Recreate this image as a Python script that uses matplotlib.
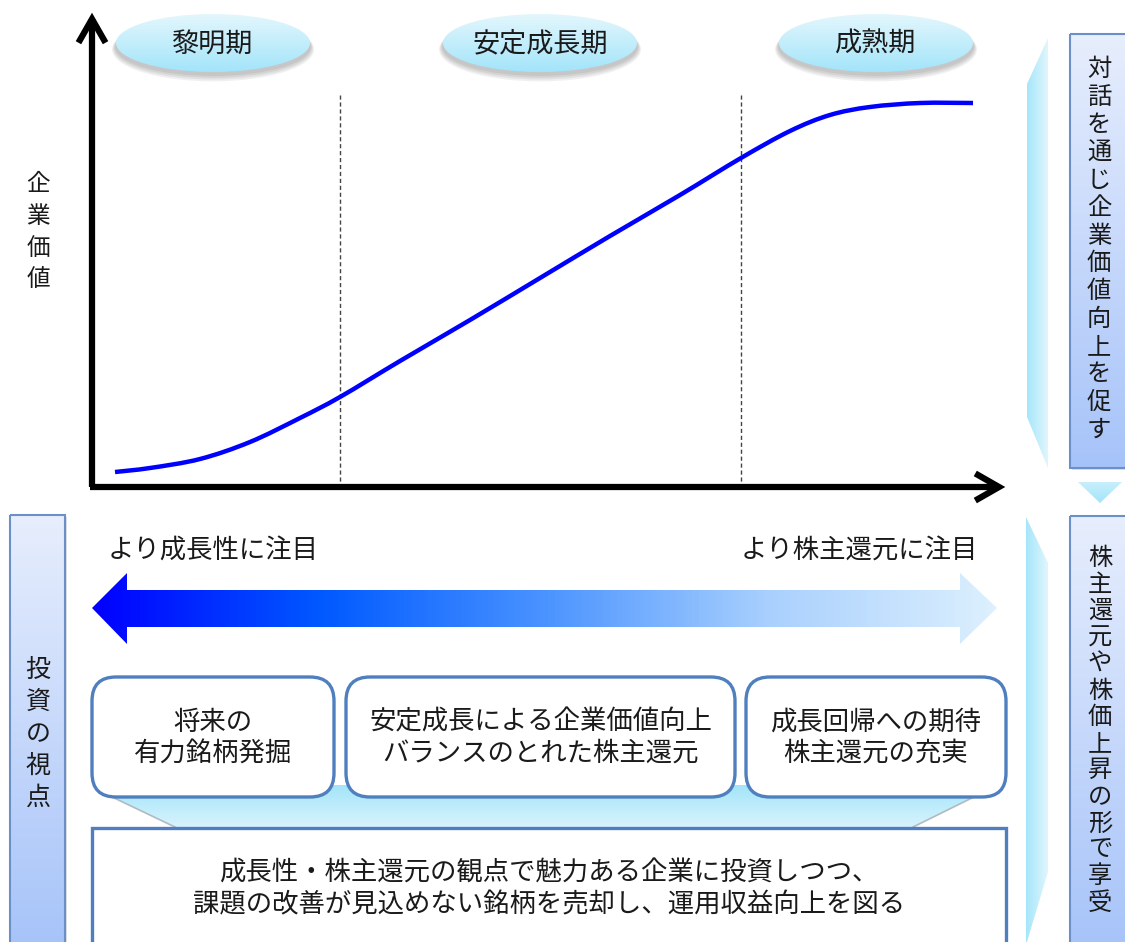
import numpy as np
import matplotlib.pyplot as plt
import matplotlib.patches as patches
from matplotlib.path import Path
from matplotlib.colors import LinearSegmentedColormap

plt.rcParams['font.family'] = ['Noto Sans CJK JP', 'DejaVu Sans']

# ---- data (pixel coordinates) ----
curve_x = [115, 150, 200, 250, 300, 340, 400, 470, 540, 610, 680, 741, 790, 830, 870, 920, 973]
curve_y = [472, 468, 459, 442, 418, 397, 361, 320, 278, 236, 195, 158, 131, 115, 107, 103, 103]
stage_names = ['黎明期', '安定成長期', '成熟期']
stage_cx = [213, 540, 876]
stage_lines = [340, 741]

box_texts = ['将来の\n有力銘柄発掘',
             '安定成長による企業価値向上\nバランスのとれた株主還元',
             '成長回帰への期待\n株主還元の充実']
box_x0 = [92, 346, 746]
box_x1 = [334, 735, 1006]

bottom_text = '成長性・株主還元の観点で魅力ある企業に投資しつつ、\n課題の改善が見込めない銘柄を売却し、運用収益向上を図る'
y_label = '企業価値'
left_label = '投資の視点'
right_top_label = '対話を通じ企業価値向上を促す'
right_bottom_label = '株主還元や株価上昇の形で享受'

TXT = '#1a1a1a'
EDGE = '#4f7fbf'

fig = plt.figure(figsize=(11.25, 9.42), dpi=100)
ax = fig.add_axes([0, 0, 1, 1])
ax.set_xlim(0, 1125)
ax.set_ylim(942, 0)
ax.axis('off')


def gradient(x0, y0, x1, y1, colors, vertical=True, clip=None, z=1):
    cmap = LinearSegmentedColormap.from_list('g', colors)
    g = np.linspace(0, 1, 256)
    arr = g.reshape(-1, 1) if vertical else g.reshape(1, -1)
    im = ax.imshow(arr, cmap=cmap, extent=(x0, x1, y1, y0), aspect='auto',
                   origin='upper', zorder=z, interpolation='bilinear')
    if clip is not None:
        im.set_clip_path(clip)
    return im


def vtext(x, y0, y1, s, size):
    ys = np.linspace(y0, y1, len(s))
    for ch, yy in zip(s, ys):
        ax.text(x, yy, ch, ha='center', va='center', fontsize=size, color=TXT, zorder=10)


def smooth_path(xs, ys):
    # Catmull-Rom through the points, drawn as cubic bezier segments
    p = np.column_stack([xs, ys]).astype(float)
    verts = [p[0]]
    codes = [Path.MOVETO]
    for i in range(len(p) - 1):
        p0 = p[i - 1] if i > 0 else p[i]
        p3 = p[i + 2] if i + 2 < len(p) else p[i + 1]
        c1 = p[i] + (p[i + 1] - p0) / 6
        c2 = p[i + 1] - (p3 - p[i]) / 6
        verts += [c1, c2, p[i + 1]]
        codes += [Path.CURVE4] * 3
    return Path(verts, codes)


# ---- axes arrows ----
ax.plot([92, 92], [487, 19], color='black', lw=4.5, solid_capstyle='butt', zorder=5)
ax.plot([80, 92, 104], [40, 19, 40], color='black', lw=4.5, solid_joinstyle='miter', zorder=5)
ax.plot([90, 998], [487, 487], color='black', lw=4.5, solid_capstyle='butt', zorder=5)
ax.plot([978, 999, 978], [475, 487, 499], color='black', lw=4.5, solid_joinstyle='miter', zorder=5)

for xv in stage_lines:
    ax.plot([xv, xv], [95, 485], color='#444444', lw=1, ls=(0, (3, 2)), zorder=3)

ax.add_patch(patches.PathPatch(smooth_path(curve_x, curve_y), facecolor='none',
                               edgecolor='#0000ff', lw=3.2, capstyle='butt', zorder=6))

vtext(38, 185, 280, y_label, 17)

# ---- stage ellipses ----
for name, cx in zip(stage_names, stage_cx):
    for k in range(4):
        sh = patches.Ellipse((cx, 47 + k * 0.8), 196 + k * 2, 58 + k * 2, facecolor='#000000',
                             edgecolor='none', alpha=0.06, zorder=2)
        ax.add_patch(sh)
    el = patches.Ellipse((cx, 43), 194, 58, facecolor='none', edgecolor='none', zorder=3)
    ax.add_patch(el)
    gradient(cx - 97, 14, cx + 97, 72, ['#e3f7fd', '#a3e4fa'], clip=el, z=3)
    ax.text(cx, 44, name, ha='center', va='center', fontsize=19.5, color=TXT, zorder=10)

# ---- right side panels ----
def side_panel(x0, y0, x1, y1):
    sh = patches.Rectangle((x0 + 2, y0 + 2), x1 - x0, y1 - y0, facecolor='#000000', alpha=0.12,
                           edgecolor='none', zorder=2)
    ax.add_patch(sh)
    r = patches.Rectangle((x0, y0), x1 - x0, y1 - y0, facecolor='none', edgecolor='none', zorder=3)
    ax.add_patch(r)
    gradient(x0, y0, x1, y1, ['#e7eefd', '#a6c3f9'], clip=r, z=3)
    ax.add_patch(patches.Rectangle((x0, y0), x1 - x0, y1 - y0, facecolor='none',
                                   edgecolor='#6b90c8', lw=1.5, zorder=4))


side_panel(1070, 34, 1130, 468)
side_panel(1070, 516, 1130, 950)
side_panel(10, 515, 65, 950)

vtext(1099, 69, 430, right_top_label, 17.5)
vtext(1100, 558, 903, right_bottom_label, 17.5)
vtext(38, 670, 798, left_label, 18)

# brackets next to right panels
br1 = patches.Polygon([(1048, 38), (1048, 468), (1027, 417), (1027, 84)], closed=True,
                      facecolor='none', edgecolor='none', zorder=3)
ax.add_patch(br1)
gradient(1026, 38, 1049, 468, ['#a3e5fa', '#e3f7fd'], vertical=False, clip=br1, z=3)
br2 = patches.Polygon([(1026, 517), (1048, 563), (1048, 872), (1026, 945)], closed=True,
                      facecolor='none', edgecolor='none', zorder=3)
ax.add_patch(br2)
gradient(1025, 517, 1049, 945, ['#a3e5fa', '#e3f7fd'], vertical=False, clip=br2, z=3)

tri = patches.Polygon([(1078, 482), (1122, 482), (1100, 503)], closed=True,
                      facecolor='none', edgecolor='none', zorder=3)
ax.add_patch(tri)
gradient(1078, 482, 1122, 503, ['#c8effc', '#a3e4fa'], clip=tri, z=3)

# ---- focus labels and double arrow ----
ax.text(108, 551, 'より成長性に注目', ha='left', va='center', fontsize=19, color=TXT, zorder=10)
ax.text(978, 551, 'より株主還元に注目', ha='right', va='center', fontsize=19, color=TXT, zorder=10)

arrow = patches.Polygon([(92, 608), (127, 573), (127, 590), (960, 590), (960, 573), (997, 608),
                         (960, 644), (960, 627), (127, 627), (127, 644)], closed=True,
                        facecolor='none', edgecolor='none', zorder=3)
ax.add_patch(arrow)
gradient(92, 573, 997, 644, ['#0000ff', '#0059ff', '#4a93ff', '#a9d0fd', '#dcf0fd'],
         vertical=False, clip=arrow, z=3)

# ---- funnel behind boxes ----
funnel = patches.Polygon([(110, 785), (990, 785), (972, 798), (913, 828), (175, 828), (114, 798)],
                         closed=True, facecolor='none', edgecolor='none', zorder=2)
ax.add_patch(funnel)
gradient(100, 785, 1000, 828, ['#a3e4fa', '#d9f4fd'], clip=funnel, z=2)
ax.plot([114, 175], [798, 827], color='#999999', lw=1.2, alpha=0.6, zorder=2)
ax.plot([972, 913], [798, 827], color='#999999', lw=1.2, alpha=0.6, zorder=2)

# ---- rounded boxes ----
for txt, x0, x1 in zip(box_texts, box_x0, box_x1):
    b = patches.FancyBboxPatch((x0, 677), x1 - x0, 120, boxstyle='round,pad=0,rounding_size=24',
                               facecolor='white', edgecolor=EDGE, lw=2.4, zorder=5)
    ax.add_patch(b)
    ax.text((x0 + x1) / 2, 738, txt, ha='center', va='center', fontsize=19, color=TXT,
            linespacing=1.2, zorder=10)

# ---- bottom box ----
ax.add_patch(patches.Rectangle((92, 828), 914, 130, facecolor='white', edgecolor=EDGE,
                               lw=2.4, zorder=5))
ax.text(549, 889, bottom_text, ha='center', va='center', fontsize=19, color=TXT,
        linespacing=1.2, zorder=10)

ax.set_xlim(0, 1125)
ax.set_ylim(942, 0)
fig.savefig('out.png', dpi=100)
